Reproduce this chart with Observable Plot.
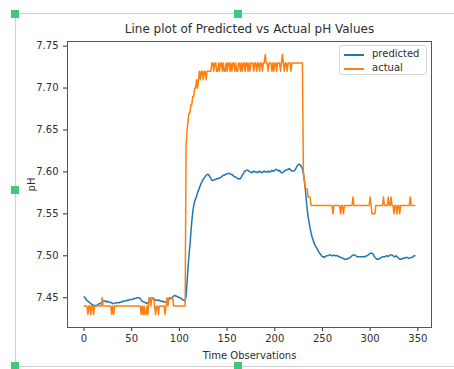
<!DOCTYPE html>
<html>
<head>
<meta charset="utf-8">
<script src="https://cdn.jsdelivr.net/npm/d3@7"></script>
<script src="https://cdn.jsdelivr.net/npm/@observablehq/plot@0.6"></script>
<style>
  html, body { margin: 0; padding: 0; background: #fff; }
  #page { position: relative; width: 454px; height: 369px; overflow: hidden; font-family: "DejaVu Sans", sans-serif; }
  #chart { position: absolute; left: 0; top: 0; }
  .hl { position: absolute; height: 1px; background: #cfcfcf; }
  .vl { position: absolute; width: 1px; background: #cfcfcf; }
  .handle { position: absolute; width: 8px; height: 8px; background: #3fc97c; }
  #legend { position: absolute; left: 339px; top: 45px; width: 88px; height: 30px; border: 1px solid #d6d6d6; border-radius: 3px; background: rgba(255,255,255,0.8); box-sizing: border-box; }
  .sw { position: absolute; left: 4px; width: 20px; height: 1.5px; }
  .lt { position: absolute; left: 32px; font-size: 10px; color: #2e2e2e; line-height: 12px; white-space: nowrap; }
</style>
</head>
<body>
<div id="page">
  <div class="hl" style="left:15px; top:13px; width:439px;"></div>
  <div class="hl" style="left:15px; top:366px; width:439px;"></div>
  <div class="vl" style="left:15px; top:13px; height:353px;"></div>
  <div id="chart"></div>
  <div id="legend"></div>
  <div class="handle" style="left:11px; top:10px;"></div>
  <div class="handle" style="left:234px; top:10px;"></div>
  <div class="handle" style="left:11px; top:186px;"></div>
  <div class="handle" style="left:11px; top:362px;"></div>
  <div class="handle" style="left:234px; top:362px;"></div>
</div>
<script>
const title = "Line plot of Predicted vs Actual pH Values";
const xLabel = "Time Observations";
const yLabel = "pH";
const seriesNames = ["predicted", "actual"];
const seriesColors = ["#1f77b4", "#ff7f0e"];
const xTicks = [0, 50, 100, 150, 200, 250, 300, 350];
const yTicks = [7.45, 7.50, 7.55, 7.60, 7.65, 7.70, 7.75];

const predicted = [
  7.451,7.450,7.448,7.447,7.446,7.445,7.444,7.443,7.442,7.441,7.441,7.441,7.440,7.441,7.441,7.442,7.443,7.443,7.444,7.445,
  7.446,7.446,7.446,7.445,7.446,7.445,7.445,7.445,7.444,7.444,7.443,7.443,7.443,7.444,7.444,7.444,7.444,7.444,7.445,7.445,
  7.445,7.446,7.446,7.446,7.446,7.447,7.447,7.447,7.448,7.448,7.448,7.448,7.449,7.449,7.449,7.450,7.450,7.450,7.450,7.449,
  7.447,7.446,7.445,7.445,7.444,7.444,7.443,7.444,7.446,7.448,7.449,7.449,7.449,7.448,7.448,7.447,7.447,7.447,7.447,7.447,
  7.446,7.446,7.446,7.445,7.445,7.445,7.445,7.446,7.447,7.448,7.449,7.449,7.449,7.451,7.452,7.453,7.452,7.452,7.451,7.451,
  7.450,7.450,7.449,7.448,7.447,7.447,7.446,7.452,7.468,7.485,7.500,7.512,7.527,7.541,7.552,7.560,7.565,7.568,7.571,7.575,
  7.578,7.581,7.584,7.587,7.589,7.591,7.593,7.594,7.596,7.597,7.597,7.596,7.594,7.592,7.590,7.590,7.590,7.591,7.591,7.592,
  7.592,7.592,7.593,7.593,7.594,7.595,7.596,7.596,7.597,7.597,7.598,7.598,7.598,7.598,7.597,7.597,7.596,7.595,7.594,7.594,
  7.593,7.592,7.592,7.592,7.592,7.594,7.596,7.598,7.600,7.601,7.602,7.602,7.602,7.601,7.600,7.600,7.599,7.600,7.601,7.600,
  7.600,7.600,7.599,7.600,7.601,7.600,7.599,7.600,7.600,7.601,7.600,7.600,7.600,7.601,7.600,7.600,7.601,7.602,7.601,7.601,
  7.602,7.603,7.603,7.602,7.601,7.602,7.600,7.599,7.599,7.600,7.601,7.602,7.602,7.603,7.603,7.604,7.603,7.602,7.601,7.601,
  7.601,7.602,7.604,7.606,7.608,7.609,7.609,7.608,7.606,7.604,7.598,7.590,7.580,7.567,7.555,7.546,7.540,7.533,7.528,7.523,
  7.519,7.516,7.513,7.511,7.509,7.507,7.505,7.503,7.502,7.500,7.499,7.499,7.498,7.499,7.500,7.500,7.500,7.501,7.501,7.501,
  7.500,7.500,7.501,7.500,7.500,7.500,7.500,7.499,7.499,7.498,7.498,7.497,7.497,7.496,7.496,7.496,7.496,7.497,7.497,7.498,
  7.499,7.500,7.501,7.501,7.501,7.500,7.499,7.499,7.499,7.499,7.499,7.499,7.499,7.499,7.499,7.499,7.500,7.500,7.501,7.502,
  7.503,7.503,7.503,7.502,7.500,7.498,7.497,7.496,7.496,7.496,7.497,7.497,7.498,7.499,7.499,7.499,7.499,7.500,7.500,7.499,
  7.500,7.501,7.501,7.501,7.500,7.499,7.499,7.500,7.499,7.498,7.497,7.496,7.496,7.496,7.497,7.497,7.497,7.498,7.498,7.498,
  7.497,7.497,7.498,7.498,7.498,7.499,7.500,7.500
];

const actual = [
  7.44,7.44,7.44,7.44,7.43,7.44,7.44,7.43,7.44,7.44,7.43,7.44,7.44,7.44,7.44,7.44,7.44,7.44,7.44,7.45,
  7.44,7.44,7.44,7.44,7.44,7.44,7.44,7.44,7.44,7.43,7.44,7.43,7.44,7.44,7.44,7.44,7.44,7.44,7.44,7.44,
  7.44,7.44,7.44,7.44,7.44,7.44,7.44,7.44,7.44,7.44,7.44,7.44,7.44,7.44,7.44,7.44,7.44,7.44,7.44,7.44,
  7.43,7.44,7.43,7.44,7.43,7.43,7.44,7.43,7.45,7.45,7.44,7.45,7.45,7.45,7.44,7.43,7.44,7.44,7.43,7.44,
  7.44,7.44,7.44,7.44,7.44,7.43,7.44,7.45,7.44,7.45,7.45,7.45,7.45,7.45,7.44,7.44,7.44,7.44,7.44,7.44,
  7.44,7.44,7.44,7.44,7.44,7.44,7.44,7.63,7.65,7.66,7.67,7.67,7.68,7.68,7.69,7.69,7.70,7.70,7.71,7.70,
  7.71,7.72,7.71,7.72,7.72,7.71,7.72,7.72,7.71,7.72,7.72,7.72,7.72,7.72,7.73,7.73,7.72,7.73,7.73,7.72,
  7.72,7.73,7.72,7.73,7.73,7.72,7.73,7.72,7.72,7.73,7.72,7.73,7.73,7.72,7.73,7.72,7.73,7.73,7.72,7.73,
  7.72,7.72,7.73,7.73,7.72,7.73,7.72,7.73,7.73,7.72,7.73,7.73,7.72,7.73,7.72,7.73,7.73,7.73,7.72,7.73,
  7.73,7.72,7.73,7.73,7.72,7.73,7.73,7.72,7.73,7.73,7.74,7.73,7.73,7.72,7.73,7.73,7.73,7.72,7.73,7.72,
  7.73,7.73,7.72,7.73,7.73,7.73,7.72,7.73,7.74,7.73,7.72,7.73,7.73,7.72,7.73,7.73,7.73,7.72,7.73,7.73,
  7.73,7.73,7.73,7.73,7.73,7.73,7.73,7.73,7.73,7.73,7.60,7.59,7.58,7.58,7.58,7.57,7.57,7.57,7.56,7.56,
  7.56,7.56,7.56,7.56,7.56,7.56,7.56,7.56,7.56,7.56,7.56,7.56,7.56,7.56,7.56,7.56,7.56,7.56,7.56,7.56,
  7.56,7.55,7.56,7.56,7.56,7.56,7.56,7.56,7.56,7.55,7.56,7.56,7.55,7.56,7.56,7.56,7.56,7.56,7.56,7.56,
  7.56,7.56,7.57,7.56,7.56,7.56,7.56,7.56,7.56,7.56,7.56,7.56,7.56,7.56,7.56,7.56,7.56,7.56,7.56,7.56,
  7.57,7.56,7.55,7.55,7.55,7.55,7.56,7.56,7.56,7.56,7.56,7.56,7.56,7.56,7.57,7.56,7.56,7.56,7.56,7.57,
  7.56,7.56,7.57,7.56,7.56,7.55,7.56,7.56,7.55,7.56,7.56,7.55,7.56,7.56,7.56,7.56,7.56,7.56,7.56,7.56,
  7.56,7.56,7.57,7.56,7.56,7.56,7.56,7.56
];

const series = [predicted, actual];
const rows = series.flatMap((vals, s) => vals.map((v, i) => ({i, v, name: seriesNames[s]})));

const chart = Plot.plot({
  width: 454,
  height: 369,
  marginLeft: 67,
  marginRight: 23,
  marginTop: 41,
  marginBottom: 42,
  style: {fontFamily: "DejaVu Sans", fontSize: "10px", color: "#2e2e2e", background: "transparent", overflow: "visible"},
  x: {domain: [-17.35, 364.35]},
  y: {domain: [7.4145, 7.7555]},
  color: {domain: seriesNames, range: seriesColors},
  marks: [
    Plot.axisX({ticks: xTicks, tickSize: 4, tickPadding: 3, tickFormat: d => String(d), label: xLabel, labelAnchor: "center", labelArrow: "none", labelOffset: 31, fontSize: 10}),
    Plot.axisY({ticks: yTicks, tickSize: 4, tickPadding: 5, tickFormat: d => d.toFixed(2), label: yLabel, labelAnchor: "center", labelArrow: "none", labelOffset: 40, fontSize: 10}),
    Plot.line(rows, {x: "i", y: "v", z: "name", stroke: "name", strokeWidth: 1.5}),
    Plot.frame({stroke: "#555", strokeWidth: 1}),
    Plot.text([title], {frameAnchor: "top", dy: -12, fontSize: 12, lineAnchor: "middle", fill: "#2e2e2e"})
  ]
});
document.getElementById("chart").appendChild(chart);

const legend = document.getElementById("legend");
seriesNames.forEach((name, k) => {
  const sw = document.createElement("div");
  sw.className = "sw";
  sw.style.top = (8 + k * 14) + "px";
  sw.style.background = seriesColors[k];
  legend.appendChild(sw);
  const t = document.createElement("div");
  t.className = "lt";
  t.style.top = (2 + k * 14) + "px";
  t.textContent = name;
  legend.appendChild(t);
});
</script>
</body>
</html>
